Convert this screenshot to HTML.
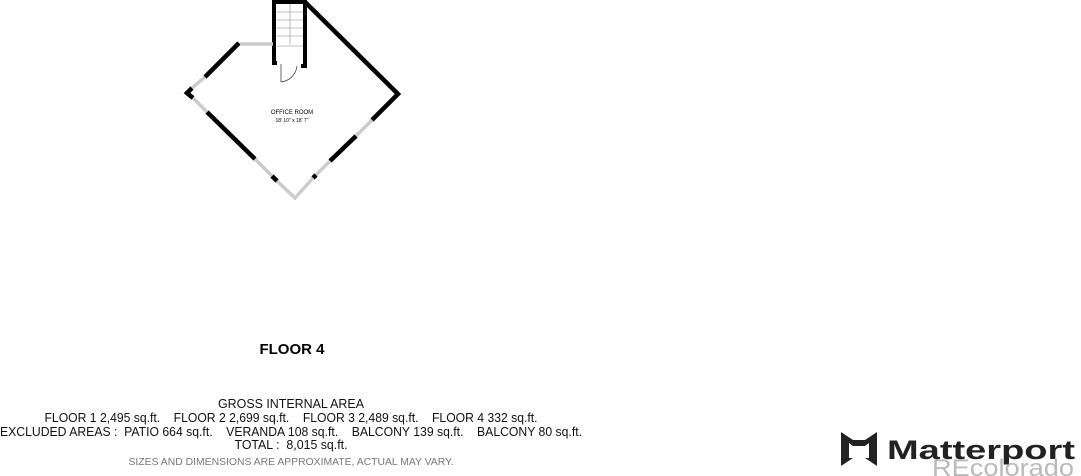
<!DOCTYPE html>
<html><head><style>
html,body{margin:0;padding:0;background:#fff;width:1081px;height:476px;overflow:hidden}
svg{display:block}
text{font-family:"Liberation Sans",Arial,sans-serif;white-space:pre}
</style></head><body>
<svg width="1081" height="476" viewBox="0 0 1081 476" xmlns="http://www.w3.org/2000/svg" xml:space="preserve">
<g fill="none" stroke-linecap="butt">
<path d="M274,45 V2 H305 V66 H301" stroke="#000" stroke-width="4"/>
<path d="M274,45 V63 H277" stroke="#000" stroke-width="4"/>
<g stroke="#aaa" stroke-width="0.8">
<line x1="277" y1="12" x2="303" y2="12"/><line x1="277" y1="20" x2="303" y2="20"/>
<line x1="277" y1="28" x2="303" y2="28"/><line x1="277" y1="36" x2="303" y2="36"/>
<line x1="290" y1="4" x2="290" y2="44"/>
<line x1="277" y1="46" x2="303" y2="46"/>
</g>
<path d="M281,82 V64 M281,82 A18,18 0 0 0 297,66" stroke="#444" stroke-width="0.8"/>
<path d="M305,2 L398,94 L372,120" stroke="#000" stroke-width="4.5"/>
<path d="M372,120 L356,136" stroke="#ccc" stroke-width="3.5"/>
<path d="M356,136 L330,161" stroke="#000" stroke-width="4.5"/>
<path d="M330,161 L316,175" stroke="#ccc" stroke-width="3.5"/>
<path d="M316,175 L313,178" stroke="#000" stroke-width="4.5"/>
<path d="M313,178 L295,198 L277,181" stroke="#ccc" stroke-width="3.5"/>
<path d="M277,181 L272,176" stroke="#000" stroke-width="4.5"/>
<path d="M272,176 L255,159" stroke="#ccc" stroke-width="3.5"/>
<path d="M255,159 L207,112" stroke="#000" stroke-width="4.5"/>
<path d="M207,112 L193,98" stroke="#ccc" stroke-width="3.5"/>
<path d="M193,98 L187,93 L192,88" stroke="#000" stroke-width="4.5"/>
<path d="M192,88 L205,77" stroke="#ccc" stroke-width="3.5"/>
<path d="M205,77 L239,43" stroke="#000" stroke-width="4.5"/>
<path d="M240,44 H273" stroke="#ccc" stroke-width="3.5"/>
</g>
<text x="292" y="114" font-size="6" text-anchor="middle">OFFICE ROOM</text>
<text x="292" y="122" font-size="5" text-anchor="middle">18' 10" x 18' 7"</text>
<text x="292" y="354" font-size="15" font-weight="bold" text-anchor="middle">FLOOR 4</text>
<g font-size="13" text-anchor="middle" fill="#111">
<text x="291" y="408" textLength="146" lengthAdjust="spacingAndGlyphs">GROSS INTERNAL AREA</text>
<text x="291" y="422" textLength="493" lengthAdjust="spacingAndGlyphs">FLOOR 1 2,495 sq.ft.    FLOOR 2 2,699 sq.ft.    FLOOR 3 2,489 sq.ft.    FLOOR 4 332 sq.ft.</text>
<text x="291" y="436" textLength="582" lengthAdjust="spacingAndGlyphs">EXCLUDED AREAS :  PATIO 664 sq.ft.    VERANDA 108 sq.ft.    BALCONY 139 sq.ft.    BALCONY 80 sq.ft.</text>
<text x="291" y="449" textLength="113" lengthAdjust="spacingAndGlyphs">TOTAL :  8,015 sq.ft.</text>
</g>
<text x="291" y="465" font-size="10" fill="#777" text-anchor="middle" textLength="325" lengthAdjust="spacingAndGlyphs">SIZES AND DIMENSIONS ARE APPROXIMATE, ACTUAL MAY VARY.</text>
<path d="M841,432 L853,440 L865,440 L877,432 V466 L865,458 H853 L841,466 Z" fill="#222"/>
<path d="M849,443 L853,446 H865 L869,443 V458 H849 Z" fill="#fff"/>
<text x="887" y="459" font-size="27" font-weight="bold" fill="#222" textLength="188" lengthAdjust="spacingAndGlyphs">Matterport</text>
<text x="932" y="476" font-size="24" fill="#aaa" opacity="0.8" textLength="142" lengthAdjust="spacingAndGlyphs">REcolorado</text>
</svg>
</body></html>
